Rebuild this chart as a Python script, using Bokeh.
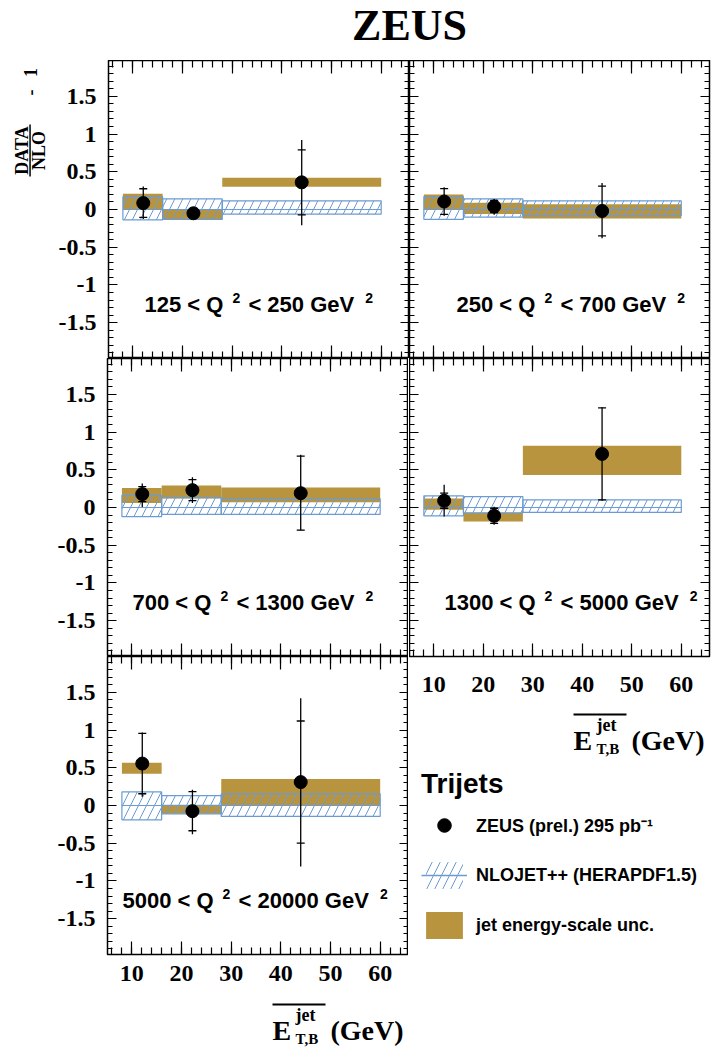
import math
from bokeh.plotting import figure
from bokeh.models import (Range1d, SingleIntervalTicker, LinearAxis, Label, BoxAnnotation,
                          ColumnDataSource, Legend, LegendItem, CustomJSTickFormatter)
from bokeh.layouts import row, column
from bokeh.embed import file_html
from bokeh.resources import INLINE

# ---------------- data ----------------
bin_lo = [8, 16, 28]
bin_hi = [16, 28, 60]
et_mean = [12.1, 22.2, 44.0]
q2_low = ["125", "250", "700", "1300", "5000"]
q2_high = ["250", "700", "1300", "5000", "20000"]

ratio = [
    [0.085, -0.05, 0.36],
    [0.106, 0.04, -0.02],
    [0.178, 0.23, 0.19],
    [0.09, -0.11, 0.71],
    [0.556, -0.075, 0.31],
]
stat_err = [
    [0.19, 0.05, 0.43],
    [0.17, 0.08, 0.33],
    [0.10, 0.14, 0.49],
    [0.10, 0.10, 0.61],
    [0.40, 0.26, 0.81],
]
tot_up = [
    [0.22, 0.07, 0.56],
    [0.19, 0.10, 0.37],
    [0.14, 0.17, 0.51],
    [0.21, 0.12, 0.62],
    [0.41, 0.285, 1.11],
]
tot_dn = [
    [0.21, 0.07, 0.57],
    [0.19, 0.11, 0.36],
    [0.17, 0.17, 0.49],
    [0.21, 0.12, 0.62],
    [0.44, 0.305, 1.12],
]
jes_lo = [
    [0.0, -0.14, 0.30],
    [0.0, -0.06, -0.12],
    [0.06, 0.12, 0.07],
    [-0.03, -0.185, 0.43],
    [0.42, -0.11, 0.0],
]
jes_hi = [
    [0.21, 0.0, 0.42],
    [0.20, 0.09, 0.07],
    [0.26, 0.29, 0.265],
    [0.12, -0.07, 0.82],
    [0.565, 0.01, 0.35],
]
nlo_lo = [
    [-0.137, -0.13, -0.06],
    [-0.13, -0.10, -0.08],
    [-0.12, -0.09, -0.09],
    [-0.11, -0.07, -0.065],
    [-0.19, -0.11, -0.145],
]
nlo_hi = [
    [0.17, 0.14, 0.115],
    [0.17, 0.14, 0.115],
    [0.16, 0.13, 0.115],
    [0.155, 0.145, 0.10],
    [0.18, 0.13, 0.155],
]
nlo_central = [0.0, 0.0, 0.0]

# ---------------- style ----------------
XR = (5.1, 65.7)
YR = (-1.975, 1.975)
FH = 298
GOLD = "#b8943f"
BLUE = "#6b9bd2"
SERIF = "Liberation Serif"
SANS = "Liberation Sans"
HATCH = 16
K_SERIF = 0.3375   # (ascent - descent) / 2 in em
K_SANS = 0.3465

AW = {' ': .278, '<': .584, 'Q': .778, 'G': .778, 'e': .556, 'V': .667}
for d in "0123456789":
    AW[d] = .556


def text_w(s, size):
    return sum(AW.get(c, .556) for c in s) * size


def conv(FX, FY, FW):
    def f(px, py):
        return (XR[0] + (px - FX) * (XR[1] - XR[0]) / FW,
                YR[1] - (py - FY) * (YR[1] - YR[0]) / FH)
    return f


def tick_axis(kind, labeled, standoff=0):
    if kind == "x":
        ticker = SingleIntervalTicker(interval=10, num_minor_ticks=5)
        tin, tmin = 13, 7
    else:
        ticker = SingleIntervalTicker(interval=0.5, num_minor_ticks=5)
        tin, tmin = 9, 5
    ax = LinearAxis(ticker=ticker, axis_line_color=None,
                    major_tick_in=tin, major_tick_out=0, minor_tick_in=tmin, minor_tick_out=0,
                    major_tick_line_color="black", minor_tick_line_color="black",
                    major_tick_line_width=1.2, minor_tick_line_width=1.2)
    if labeled:
        ax.major_label_text_font = SERIF
        ax.major_label_text_font_style = "bold"
        ax.major_label_text_font_size = "24px"
        ax.major_label_text_color = "black"
        ax.major_label_standoff = standoff
        if kind == "y":
            ax.formatter = CustomJSTickFormatter(
                code="var v = Math.round(tick*10)/10; return (Math.abs(v) < 1e-9) ? '0' : String(v);")
    else:
        ax.major_label_text_font_size = "0px"
        ax.major_label_text_color = None
        ax.major_label_standoff = 0
    return ax


def bare(fw, fh, xr, yr, **kw):
    opts = dict(min_border=0)
    opts.update(kw)
    p = figure(frame_width=fw, frame_height=fh, x_range=Range1d(*xr), y_range=Range1d(*yr),
               x_axis_location=None, y_axis_location=None, toolbar_location=None,
               output_backend="svg", outline_line_color=None, **opts)
    p.grid.visible = False
    return p


def label(p, x, y, txt, size, font=SANS, align="left", **kw):
    p.add_layout(Label(x=x, y=y, text=txt, text_font=font, text_font_style="bold",
                       text_font_size=f"{size}px", text_align=align,
                       text_baseline="middle", text_color="black", **kw))


def panel(i, col, FY, x_labeled=False, x_standoff=0, bottom_border=0, left_border=107):
    left_col = (col == 0)
    FW = 301 if left_col else 300
    FX = 107 if left_col else 408
    p = figure(frame_width=FW, frame_height=FH, x_range=Range1d(*XR), y_range=Range1d(*YR),
               x_axis_location=None, y_axis_location=None, toolbar_location=None,
               output_backend="svg",
               min_border_left=left_border if left_col else 0,
               min_border_right=0 if left_col else 2,
               min_border_top=0, min_border_bottom=bottom_border,
               background_fill_color="white", border_fill_color="white",
               outline_line_color="black", outline_line_width=1.5)
    p.grid.visible = False
    p.add_layout(tick_axis("x", x_labeled, x_standoff), "below")
    p.add_layout(tick_axis("x", False), "above")
    p.add_layout(tick_axis("y", left_col, 12), "left")
    p.add_layout(tick_axis("y", False), "right")

    ys = ratio[i]
    p.quad(left=bin_lo, right=bin_hi, bottom=jes_lo[i], top=jes_hi[i],
           fill_color=GOLD, line_color=None)
    p.quad(left=bin_lo, right=bin_hi, bottom=nlo_lo[i], top=nlo_hi[i],
           fill_color=None, line_color=BLUE, line_width=1.2,
           hatch_pattern="/", hatch_color=BLUE, hatch_scale=HATCH, hatch_weight=1)
    p.segment(x0=bin_lo, y0=nlo_central, x1=bin_hi, y1=nlo_central, line_color=BLUE, line_width=1.2)
    p.segment(x0=et_mean, y0=[y - d for y, d in zip(ys, tot_dn[i])],
              x1=et_mean, y1=[y + u for y, u in zip(ys, tot_up[i])],
              line_color="black", line_width=1.3)
    p.scatter(x=et_mean + et_mean,
              y=[y + s for y, s in zip(ys, stat_err[i])] + [y - s for y, s in zip(ys, stat_err[i])],
              marker="dash", size=8, line_color="black", line_width=1.3)
    p.scatter(x=et_mean, y=ys, size=13, fill_color="black", line_color="black")

    # Q2 range label (baseline at FY + 252)
    f = conv(FX, FY, FW)
    dx = [36, 47, 25, 35, 15][i]
    base = FY + 252
    x0 = FX + dx
    s1 = f"{q2_low[i]} < Q"
    s2 = f"< {q2_high[i]} GeV"
    xs1 = x0 + text_w(s1, 22) + 9
    x2 = xs1 + 8 + 8
    xs2 = x2 + text_w(s2, 22) + 11
    for txt, px, pb, sz in [(s1, x0, base, 22), ("2", xs1, base - 10, 14),
                            (s2, x2, base, 22), ("2", xs2, base - 10, 14)]:
        lx, ly = f(px, pb - K_SANS * sz)
        label(p, lx, ly, txt, sz)
    return p


def et_strip(frame_w, height, top, frame_left, left_border, right_border, ox, oy):
    """strip with overline + E_{T,B}^{jet} (GeV); ox, oy = page position of overline start"""
    s = bare(frame_w, height, (0, frame_w), (0, height),
             min_border_left=left_border, min_border_right=right_border)
    X = lambda px: px - frame_left
    Y = lambda py: top + height - py
    s.add_layout(BoxAnnotation(left=X(ox), right=X(ox + 53), top=Y(oy), bottom=Y(oy + 2),
                               fill_color="black", fill_alpha=1, line_color=None))
    for txt, px, pb, sz in [("E", ox, oy + 36, 28), ("jet", ox + 23, oy + 18, 18),
                            ("T,B", ox + 23, oy + 41, 15), ("(GeV)", ox + 58, oy + 36, 28)]:
        label(s, X(px), Y(pb - K_SERIF * sz), txt, sz, font=SERIF)
    return s


# ---------------- title ----------------
T = bare(710, 60, (0, 710), (0, 60))
label(T, 409, 60 - (39.5 - K_SERIF * 44), "ZEUS", 44, font=SERIF, align="center")

# ---------------- y-axis title strip (DATA/NLO - 1, rotated) ----------------
YT = bare(55, FH, (0, 55), (0, FH))
for txt, px, py in [("DATA", 21.0, 150), ("NLO", 38.9, 150), ("-", 29.5, 92), ("1", 29.5, 72)]:
    YT.add_layout(Label(x=px, y=358 - py, text=txt, angle=90, angle_units="deg",
                        text_align="center", text_baseline="middle", text_font=SERIF,
                        text_font_style="bold", text_font_size="18px", text_color="black"))
YT.add_layout(BoxAnnotation(left=28.8, right=30.3, top=358 - 124, bottom=358 - 176,
                            fill_color="black", fill_alpha=1, line_color=None))

# ---------------- panels ----------------
A = panel(0, 0, 60, left_border=52)
B = panel(1, 1, 60)
C = panel(2, 0, 358)
D = panel(3, 1, 358, x_labeled=True, x_standoff=20, bottom_border=50)
E = panel(4, 0, 656, x_labeled=True, x_standoff=11, bottom_border=41)

EL = et_strip(301, 53, 995, 107, 107, 0, 272, 1003)
DL = et_strip(300, 54, 706, 408, 0, 2, 572, 713)

# ---------------- legend ----------------
L = bare(300, 288, (0, 1), (0, 1), min_border_right=2)
nan = float("nan")
proxy = ColumnDataSource(data=dict(x=[nan], y=[nan], l=[nan], r=[nan], b=[nan], t=[nan]))
r_pt = L.scatter("x", "y", source=proxy, size=13, fill_color="black", line_color="black")
r_h = L.quad(left="l", right="r", bottom="b", top="t", source=proxy, fill_color=None,
             line_color=None, hatch_pattern="/", hatch_color=BLUE, hatch_scale=HATCH,
             hatch_weight=1)
r_c = L.line("x", "y", source=proxy, line_color=BLUE, line_width=1.5)
r_g = L.quad(left="l", right="r", bottom="b", top="t", source=proxy, fill_color=GOLD,
             line_color=None)
leg = Legend(items=[LegendItem(label="ZEUS (prel.) 295 pb\u207b\u00b9", renderers=[r_pt]),
                    LegendItem(label="NLOJET++ (HERAPDF1.5)", renderers=[r_h, r_c]),
                    LegendItem(label="jet energy-scale unc.", renderers=[r_g])],
             location=(12, 106), padding=0, margin=0, spacing=16,
             glyph_width=46, glyph_height=34, label_height=34, label_standoff=9,
             label_text_font=SANS, label_text_font_style="bold", label_text_font_size="18px",
             label_text_color="black",
             title="Trijets", title_text_font=SANS, title_text_font_style="bold",
             title_text_font_size="28px", title_standoff=8, title_text_color="black",
             border_line_color=None, background_fill_alpha=0)
L.add_layout(leg)

layout = column(T, row(column(row(YT, A), C, E, EL), column(B, D, DL, L)))
open("out.html", "w").write(file_html(layout, INLINE))
